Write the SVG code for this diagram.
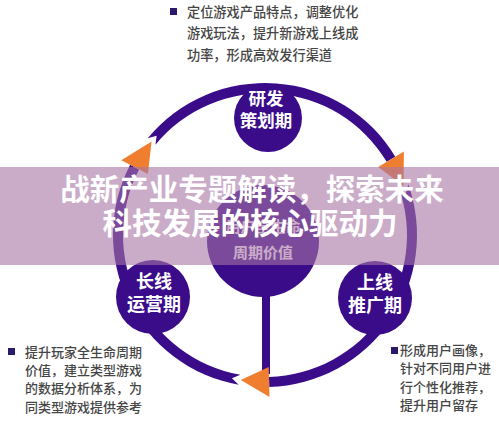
<svg xmlns="http://www.w3.org/2000/svg" width="499" height="432" viewBox="0 0 499 432">
<style>
.ring{fill:#3a0c8a}
.arrow{fill:#ef7f2f}
.node{fill:#3a0c8a}
.nt{font-family:"Noto Sans CJK SC","Noto Sans",sans-serif;font-weight:700;fill:#fff;text-anchor:middle}
.body{font-family:"Noto Sans CJK SC","Noto Sans",sans-serif;font-weight:500;fill:#454545;font-size:13px}
.bul{fill:#2b1a6b}
.title{font-family:"Noto Sans CJK SC","Noto Sans",sans-serif;font-weight:700;fill:#fff;font-size:29.5px;text-anchor:middle}
</style>
<rect width="499" height="432" fill="#fff"/>
<g id="connectors">
<path class="ring" d="M238.61,384.69 A152,152 0 0 1 130.17,164.81 L139.04,169.43 A142,142 0 0 0 240.34,374.84 L231.93,378.23 Z"/>
<path class="ring" d="M147.71,138.32 A152,152 0 0 1 395.29,156.71 L386.72,161.86 A142,142 0 0 0 155.43,144.68 L156.62,135.69 Z"/>
<path class="ring" d="M408.28,184.26 A152,152 0 0 1 269.24,386.94 L268.96,376.94 A142,142 0 0 0 398.85,187.60 L405.95,193.25 Z"/>
<rect class="ring" x="262" y="290" width="8" height="84"/>
<polygon class="arrow" points="269.52,396.94 268.69,366.95 240.74,379.98"/>
<polygon class="arrow" points="121.30,160.20 147.91,174.05 151.57,141.50"/>
<polygon class="arrow" points="403.86,151.56 378.15,167.01 403.57,185.93"/>
</g>
<g id="center">
<circle class="node" cx="263" cy="241" r="56"/>
<text class="nt" x="263" y="232" font-size="15">用户全生命</text>
<text class="nt" x="263" y="258" font-size="15">周期价值</text>
</g>
<g id="top-node">
<circle class="node" cx="268" cy="118" r="34"/>
<text class="nt" x="266" y="105" font-size="17.5">研发</text>
<text class="nt" x="266" y="127" font-size="17.5">策划期</text>
</g>
<g id="left-node">
<circle class="node" cx="153" cy="297" r="37"/>
<text class="nt" x="154" y="288" font-size="18">长线</text>
<text class="nt" x="154" y="311" font-size="18">运营期</text>
</g>
<g id="right-node">
<circle class="node" cx="375" cy="298" r="37"/>
<text class="nt" x="375" y="289" font-size="18">上线</text>
<text class="nt" x="375" y="312" font-size="18">推广期</text>
</g>
<g id="top-text">
<rect class="bul" x="170" y="8" width="7" height="7"/>
<text class="body" x="187" y="16.5" style="font-size:13.2px">定位游戏产品特点，调整优化</text>
<text class="body" x="187" y="38" style="font-size:13.2px">游戏玩法，提升新游戏上线成</text>
<text class="body" x="187" y="59.5" style="font-size:13.2px">功率，形成高效发行渠道</text>
</g>
<g id="left-text">
<rect class="bul" x="8" y="348" width="7" height="7"/>
<text class="body" x="25" y="356.5">提升玩家全生命周期</text>
<text class="body" x="25" y="374.5">价值，建立类型游戏</text>
<text class="body" x="25" y="393">的数据分析体系，为</text>
<text class="body" x="25" y="411.5">同类型游戏提供参考</text>
</g>
<g id="right-text">
<rect class="bul" x="391" y="347" width="7" height="7"/>
<text class="body" x="400" y="354.5">形成用户画像，</text>
<text class="body" x="400" y="373">针对不同用户进</text>
<text class="body" x="400" y="391.5">行个性化推荐，</text>
<text class="body" x="400" y="409.5">提升用户留存</text>
</g>
<g id="overlay">
<rect x="0" y="167" width="499" height="98" fill="#a774a5" opacity="0.6"/>
<text class="title" x="252" y="200">战新产业专题解读，探索未来</text>
<text class="title" x="250" y="234">科技发展的核心驱动力</text>
</g>
</svg>
